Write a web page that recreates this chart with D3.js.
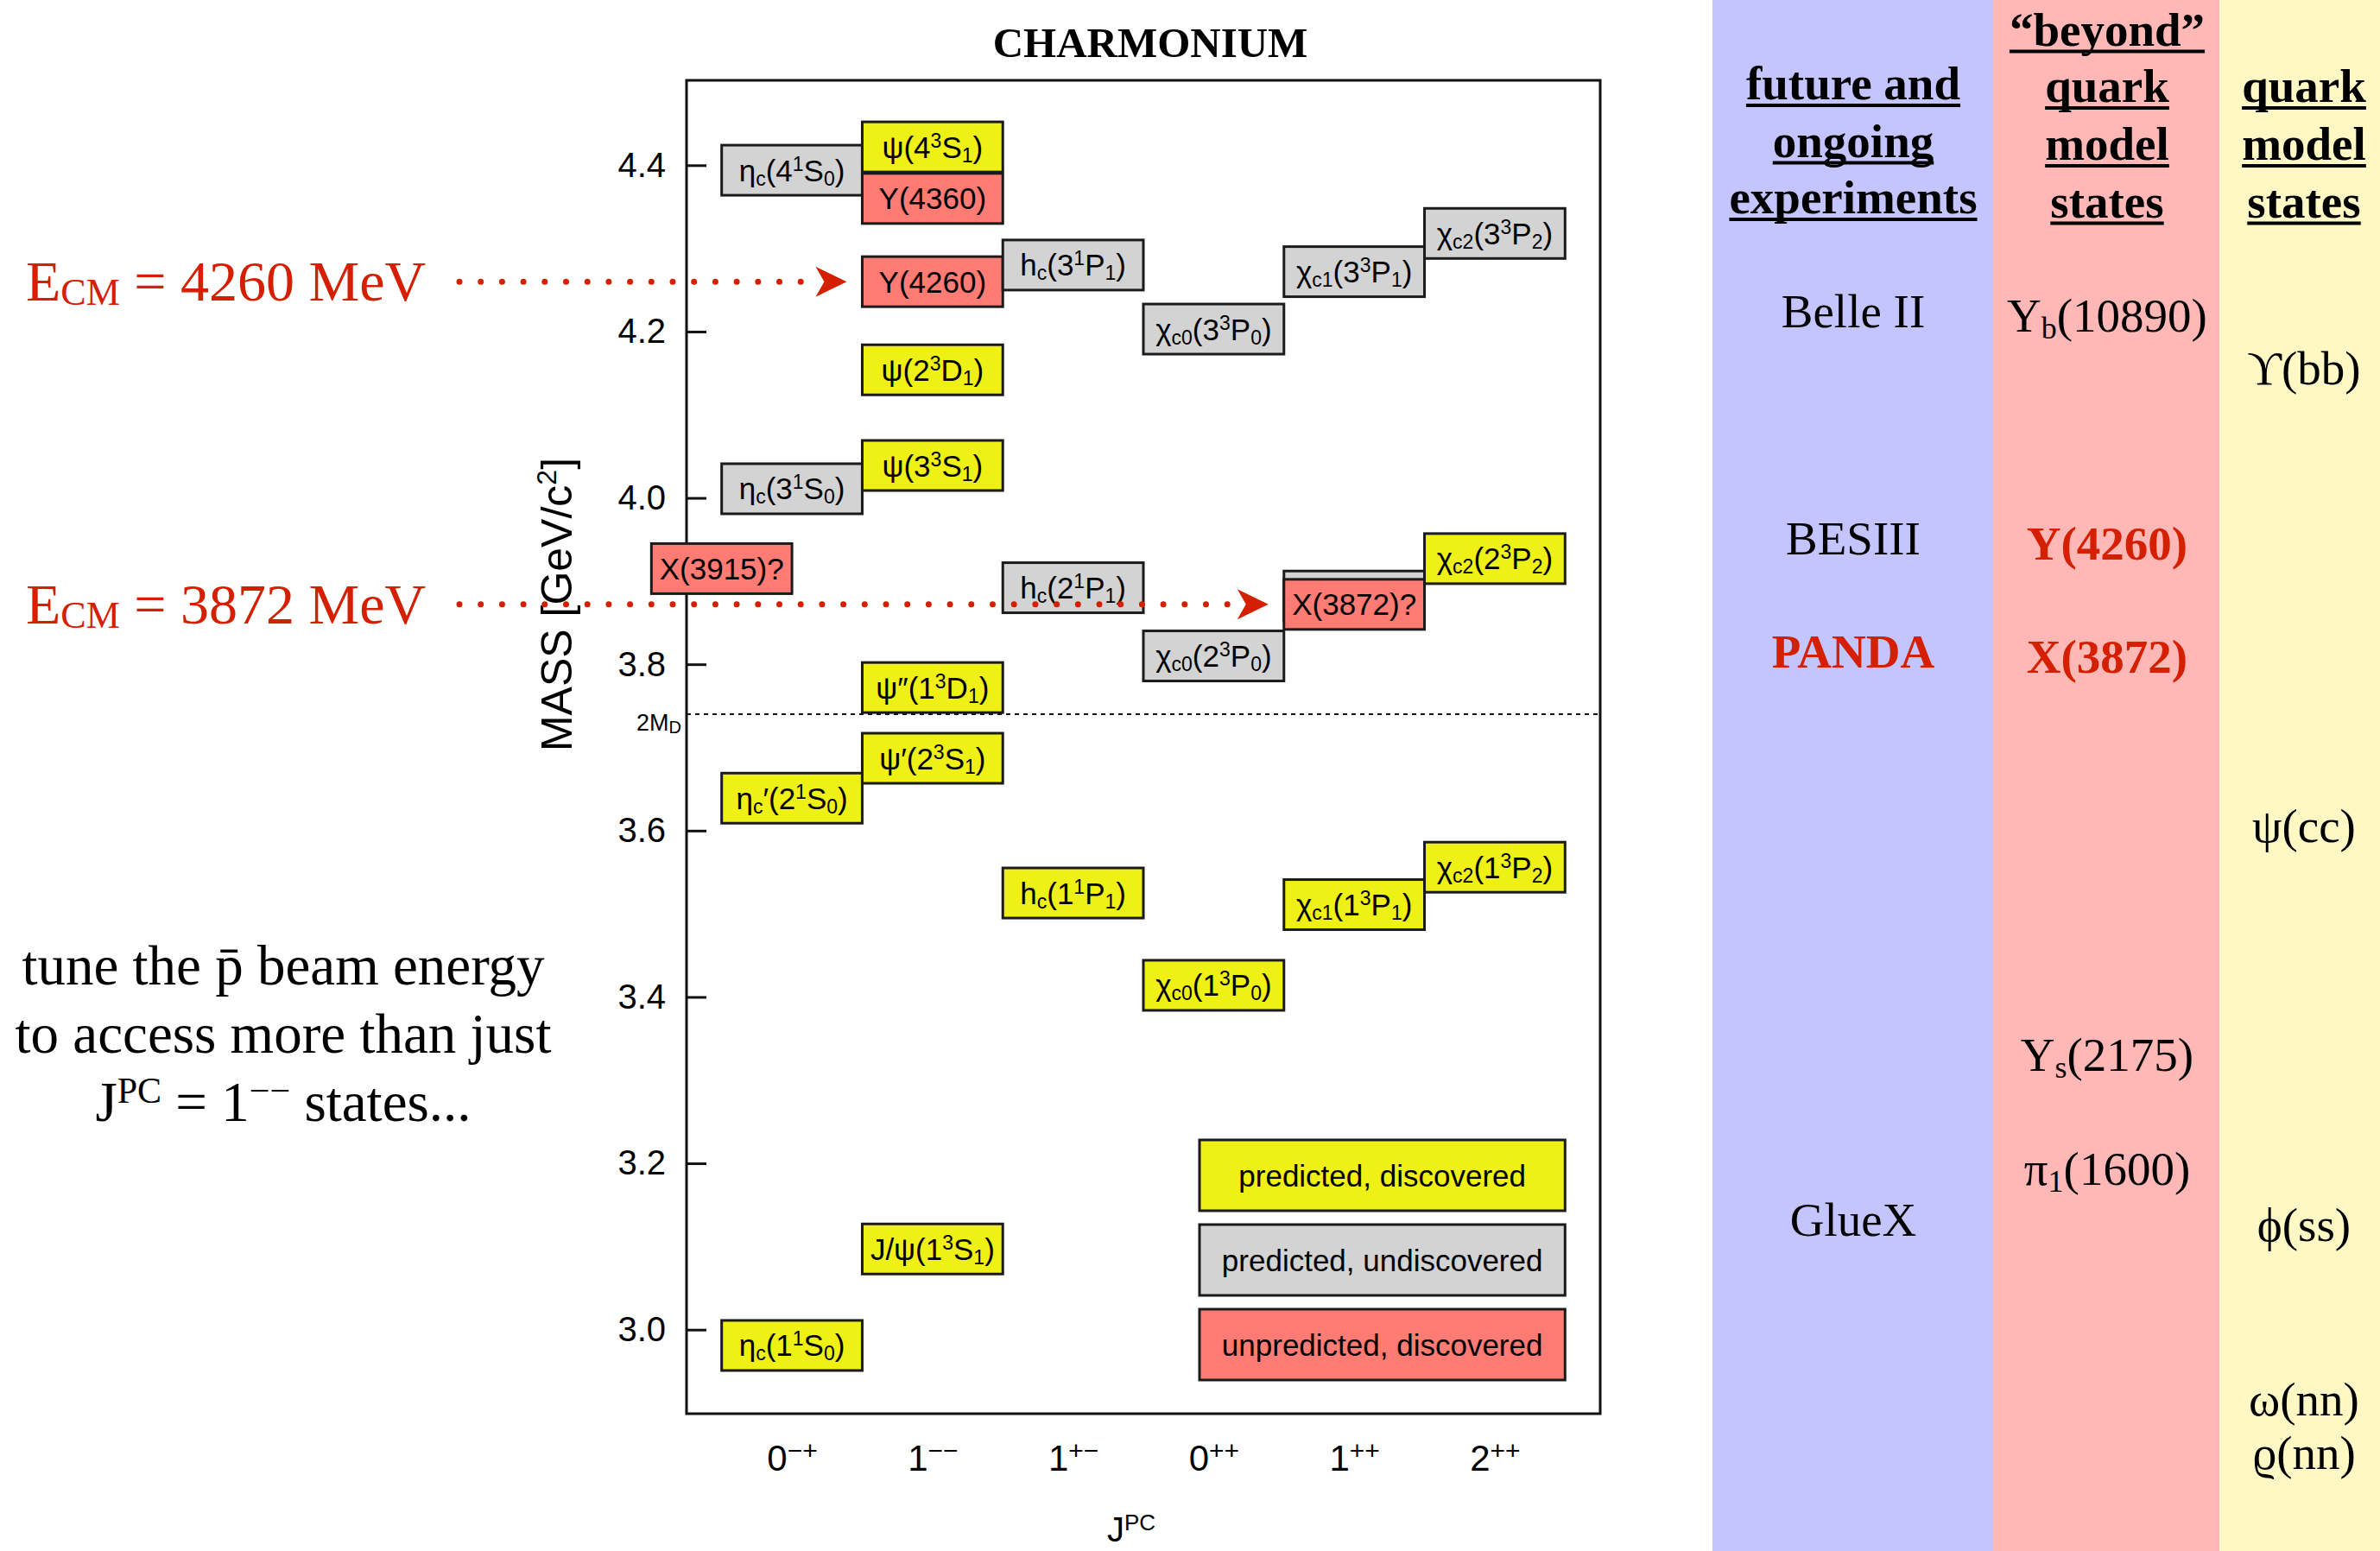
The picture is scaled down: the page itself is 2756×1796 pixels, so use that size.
<!DOCTYPE html>
<html>
<head>
<meta charset="utf-8">
<script src="https://cdn.jsdelivr.net/npm/d3@7"></script>
<style>
  html, body { margin: 0; padding: 0; background: #fff; }
  svg { display: block; }
</style>
</head>
<body>
<svg id="chart" width="2756" height="1796"></svg>
<script>
// ---------- data ----------
// J^PC columns: quantum number J and the P,C signs written as a superscript
const jpcBase = ["0", "1", "1", "0", "1", "2"];
const jpcSup  = ["−+", "−−", "+−", "++", "++", "++"];

// charmonium states: label markup (_ = subscript, ^ = superscript), column, mass [GeV/c²], kind
// (the 2³P₁ χc1 box sits under X(3872) and carries no visible label)
const stateLabels = [
  "η_c(1^1S_0)", "η_c′(2^1S_0)", "η_c(3^1S_0)", "η_c(4^1S_0)",
  "X(3915)?",
  "J/ψ(1^3S_1)", "ψ′(2^3S_1)", "ψ″(1^3D_1)", "ψ(3^3S_1)", "ψ(2^3D_1)", "Y(4260)", "Y(4360)", "ψ(4^3S_1)",
  "h_c(1^1P_1)", "h_c(2^1P_1)", "h_c(3^1P_1)",
  "χ_{c0}(1^3P_0)", "χ_{c0}(2^3P_0)", "χ_{c0}(3^3P_0)",
  "χ_{c1}(1^3P_1)", "", "X(3872)?", "χ_{c1}(3^3P_1)",
  "χ_{c2}(1^3P_2)", "χ_{c2}(2^3P_2)", "χ_{c2}(3^3P_2)"
];
const stateColumn = [0, 0, 0, 0, -0.5, 1, 1, 1, 1, 1, 1, 1, 1, 2, 2, 2, 3, 3, 3, 4, 4, 4, 4, 5, 5, 5];
const stateMass = [
  2.981, 3.639, 4.011, 4.394,
  3.915,
  3.097, 3.687, 3.772, 4.039, 4.154, 4.260, 4.360, 4.422,
  3.525, 3.892, 4.280,
  3.414, 3.810, 4.203,
  3.511, 3.882, 3.872, 4.272,
  3.556, 3.927, 4.318
];
// pd = predicted, discovered; pu = predicted, undiscovered; ud = unpredicted, discovered
const stateKind = [
  "pd", "pd", "pu", "pu",
  "ud",
  "pd", "pd", "pd", "pd", "pd", "ud", "ud", "pd",
  "pd", "pu", "pu",
  "pd", "pu", "pu",
  "pd", "pu", "ud", "pu",
  "pd", "pd", "pu"
];

const legendKinds  = ["pd", "pu", "ud"];
const legendLabels = ["predicted, discovered", "predicted, undiscovered", "unpredicted, discovered"];

const massTicks = [3.0, 3.2, 3.4, 3.6, 3.8, 4.0, 4.2, 4.4];
const openCharmThreshold = 3.74;          // 2M_D

// beam energies (MeV) and the J^PC column each arrow points into
const ecmValues = [4260, 3872];
const ecmTargetColumn = [1, 4];

// side panel
const panelHeaders = [
  ["future and", "ongoing", "experiments"],
  ["“beyond”", "quark", "model", "states"],
  ["quark", "model", "states"]
];
const experimentLabels = ["Belle II", "BESIII", "PANDA", "GlueX"];
const experimentHighlight = [false, false, true, false];
const exoticLabels = ["Y_b(10890)", "Y(4260)", "X(3872)", "Y_s(2175)", "π_1(1600)"];
const exoticHighlight = [false, true, true, false, false];
const conventionalLabels = ["ϒ(bb)", "ψ(cc)", "ϕ(ss)", "ω(nn)", "ϱ(nn)"];

// ---------- styling / layout ----------
const SERIF = "'Liberation Serif','Times New Roman',Times,serif";
const SANS = "'Liberation Sans',Arial,Helvetica,sans-serif";
const RED = "#D42000";
const kindColor = { pd: "#EEF016", pu: "#D3D3D3", ud: "#FF7B73" };
const frame = { left: 795, right: 1853, top: 93, bottom: 1637 };
const BOX_H = 58;

const panel = {
  edges: [1983, 2308, 2570, 2756],
  colors: ["#C4C4FF", "#FFB8B5", "#FFF7C4"],
  centers: [2146, 2440, 2668],
  headerY: [[115, 181.5, 247], [52.5, 118, 185, 251.5], [118, 185, 251.5]],
  expY: [379, 642, 773, 1431],
  exoY: [383.5, 647.5, 779, 1240, 1371.5],
  convY: [445, 974.5, 1437, 1639, 1700.5]
};

// ---------- helpers ----------
function parseMarkup(s) {
  const out = [];
  let buf = "", i = 0;
  while (i < s.length) {
    const ch = s[i];
    if (ch === "_" || ch === "^") {
      if (buf) { out.push({ type: "n", t: buf }); buf = ""; }
      let t;
      if (s[i + 1] === "{") {
        const j = s.indexOf("}", i + 2);
        t = s.slice(i + 2, j);
        i = j + 1;
      } else {
        t = s[i + 1];
        i += 2;
      }
      out.push({ type: ch === "_" ? "sub" : "sup", t });
    } else {
      buf += ch;
      i++;
    }
  }
  if (buf) out.push({ type: "n", t: buf });
  return out;
}

function rich(sel, markup, o) {
  let cur = 0;
  parseMarkup(markup).forEach(p => {
    const target = p.type === "sup" ? -o.sup : p.type === "sub" ? o.sub : 0;
    sel.append("tspan")
      .attr("dy", target - cur)
      .attr("font-size", p.type === "n" ? o.size : o.small)
      .text(p.t);
    cur = target;
  });
}

// ---------- scales ----------
const y = d3.scaleLinear().domain([2.9, 4.5]).range([1636, 95]);
const x = d3.scaleLinear().domain([-0.75, 5.75]).range([frame.left, frame.right]);
const bw = x(1) - x(0);

const svg = d3.select("#chart");
svg.append("rect").attr("width", 2756).attr("height", 1796).attr("fill", "#fff");

// ---------- side panel ----------
const side = svg.append("g");
panel.colors.forEach((c, i) => {
  side.append("rect")
    .attr("x", panel.edges[i]).attr("y", 0)
    .attr("width", panel.edges[i + 1] - panel.edges[i]).attr("height", 1796)
    .attr("fill", c);
});

panelHeaders.forEach((lines, ci) => {
  lines.forEach((line, li) => {
    const by = panel.headerY[ci][li];
    const t = side.append("text")
      .attr("x", panel.centers[ci]).attr("y", by)
      .attr("text-anchor", "middle")
      .attr("font-family", SERIF).attr("font-weight", "bold").attr("font-size", 55)
      .attr("fill", "#000")
      .text(line);
    const len = t.node().getComputedTextLength();
    side.append("rect")
      .attr("x", panel.centers[ci] - len / 2).attr("y", by + 5)
      .attr("width", len).attr("height", 4).attr("fill", "#000");
  });
});

experimentLabels.forEach((lab, i) => {
  side.append("text")
    .attr("x", panel.centers[0]).attr("y", panel.expY[i])
    .attr("text-anchor", "middle")
    .attr("font-family", SERIF).attr("font-size", 55)
    .attr("font-weight", experimentHighlight[i] ? "bold" : "normal")
    .attr("fill", experimentHighlight[i] ? RED : "#000")
    .text(lab);
});

exoticLabels.forEach((lab, i) => {
  const t = side.append("text")
    .attr("x", panel.centers[1]).attr("y", panel.exoY[i])
    .attr("text-anchor", "middle")
    .attr("font-family", SERIF)
    .attr("font-weight", exoticHighlight[i] ? "bold" : "normal")
    .attr("fill", exoticHighlight[i] ? RED : "#000");
  rich(t, lab, { size: 55, small: 36, sup: 18, sub: 8 });
});

conventionalLabels.forEach((lab, i) => {
  side.append("text")
    .attr("x", panel.centers[2]).attr("y", panel.convY[i])
    .attr("text-anchor", "middle")
    .attr("font-family", SERIF).attr("font-size", 55)
    .attr("fill", "#000")
    .text(lab);
});

// ---------- plot frame and axes ----------
const plot = svg.append("g");

plot.append("rect")
  .attr("x", frame.left).attr("y", frame.top)
  .attr("width", frame.right - frame.left).attr("height", frame.bottom - frame.top)
  .attr("fill", "none").attr("stroke", "#111").attr("stroke-width", 3);

const yAxis = d3.axisLeft(y)
  .tickValues(massTicks)
  .tickFormat(d3.format(".1f"))
  .tickSize(-23)
  .tickPadding(24);
const gy = plot.append("g")
  .attr("transform", `translate(${frame.left},0)`)
  .call(yAxis);
gy.select(".domain").remove();
gy.attr("font-family", SANS).attr("font-size", 40);
gy.selectAll(".tick line").attr("stroke", "#111").attr("stroke-width", 3);
gy.selectAll(".tick text").attr("fill", "#000");

const xAxis = d3.axisBottom(x)
  .tickValues(d3.range(jpcBase.length))
  .tickSize(0)
  .tickPadding(0)
  .tickFormat(i => jpcBase[i]);
const gx = plot.append("g")
  .attr("transform", `translate(0,${frame.bottom})`)
  .call(xAxis);
gx.select(".domain").remove();
gx.attr("font-family", SANS).attr("font-size", 42);
gx.selectAll(".tick text").each(function (i) {
  const t = d3.select(this);
  t.text(null).attr("y", 66).attr("dy", null).attr("fill", "#000");
  t.append("tspan").text(jpcBase[i]);
  t.append("tspan").attr("dy", -13).attr("font-size", 30).text(jpcSup[i]);
});

// axis titles
const xt = plot.append("text")
  .attr("x", 1310).attr("y", 1785)
  .attr("text-anchor", "middle")
  .attr("font-family", SANS).attr("fill", "#000");
rich(xt, "J^{PC}", { size: 40, small: 26, sup: 13, sub: 0 });

const yt = plot.append("text")
  .attr("transform", "translate(662,700) rotate(-90)")
  .attr("text-anchor", "middle")
  .attr("font-family", SANS).attr("fill", "#000");
rich(yt, "MASS [GeV/c^2]", { size: 50, small: 32, sup: 18, sub: 0 });

plot.append("text")
  .attr("x", 1332).attr("y", 66).attr("text-anchor", "middle")
  .attr("font-family", SERIF).attr("font-weight", "bold").attr("font-size", 49)
  .text("CHARMONIUM");

// open-charm threshold
plot.append("line")
  .attr("x1", frame.left).attr("x2", frame.right)
  .attr("y1", y(openCharmThreshold)).attr("y2", y(openCharmThreshold))
  .attr("stroke", "#111").attr("stroke-width", 2).attr("stroke-dasharray", "5,5");
const thr = plot.append("text")
  .attr("x", frame.left - 6).attr("y", y(openCharmThreshold) + 19)
  .attr("text-anchor", "end")
  .attr("font-family", SANS).attr("fill", "#000");
rich(thr, "2M_D", { size: 27, small: 20, sup: 0, sub: 3 });

// ---------- states ----------
const table = stateLabels.map((label, i) => ({
  label, col: stateColumn[i], mass: stateMass[i], kind: stateKind[i]
}));

const boxes = plot.selectAll("g.state")
  .data(table)
  .join("g")
  .attr("class", "state")
  .attr("transform", d => `translate(${x(d.col)},${y(d.mass)})`);

boxes.append("rect")
  .attr("x", -bw / 2).attr("y", -BOX_H / 2)
  .attr("width", bw).attr("height", BOX_H)
  .attr("fill", d => kindColor[d.kind])
  .attr("stroke", "#1b1b1b").attr("stroke-width", 3);

boxes.filter(d => d.label !== "")
  .append("text")
  .attr("text-anchor", "middle")
  .attr("y", 12.5)
  .attr("font-family", SANS)
  .attr("fill", "#000")
  .each(function (d) {
    rich(d3.select(this), d.label, { size: 35, small: 23, sup: 12, sub: 5 });
  });

// ---------- legend ----------
const legend = plot.append("g");
const legendRight = x(5) + bw / 2;
legendKinds.forEach((k, i) => {
  const top = 1320 + i * 98;
  legend.append("rect")
    .attr("x", 1389).attr("y", top)
    .attr("width", legendRight - 1389).attr("height", 82)
    .attr("fill", kindColor[k])
    .attr("stroke", "#1b1b1b").attr("stroke-width", 3);
  legend.append("text")
    .attr("x", (1389 + legendRight) / 2).attr("y", top + 41 + 12.5)
    .attr("text-anchor", "middle")
    .attr("font-family", SANS).attr("font-size", 35)
    .attr("fill", "#000")
    .text(legendLabels[i]);
});

// ---------- beam-energy arrows ----------
const arrows = svg.append("g");
ecmValues.forEach((mev, i) => {
  const ay = y(mev / 1000);
  const tip = x(ecmTargetColumn[i] - 0.5) - 18;
  const back = tip - 36;
  arrows.append("line")
    .attr("x1", 532).attr("x2", back - 8)
    .attr("y1", ay).attr("y2", ay)
    .attr("stroke", RED).attr("stroke-width", 7)
    .attr("stroke-linecap", "round")
    .attr("stroke-dasharray", "0 24.7");
  arrows.append("path")
    .attr("d", `M${tip},${ay} L${back},${ay - 17.5} L${back + 10},${ay} L${back},${ay + 17.5} Z`)
    .attr("fill", RED);
  const t = arrows.append("text")
    .attr("x", 30).attr("y", ay + 22)
    .attr("font-family", SERIF).attr("fill", RED);
  rich(t, `E_{CM} = ${mev} MeV`, { size: 66, small: 44, sup: 0, sub: 5 });
});

// ---------- note ----------
const note = svg.append("g")
  .attr("font-family", SERIF).attr("font-size", 65).attr("fill", "#000")
  .attr("text-anchor", "middle");
note.append("text").attr("x", 328).attr("y", 1140).text("tune the p\u0304 beam energy");
note.append("text").attr("x", 328).attr("y", 1219).text("to access more than just");
const n3 = note.append("text").attr("x", 328).attr("y", 1298);
rich(n3, "J^{PC} = 1^{−−} states...", { size: 65, small: 42, sup: 21, sub: 0 });
</script>
</body>
</html>
